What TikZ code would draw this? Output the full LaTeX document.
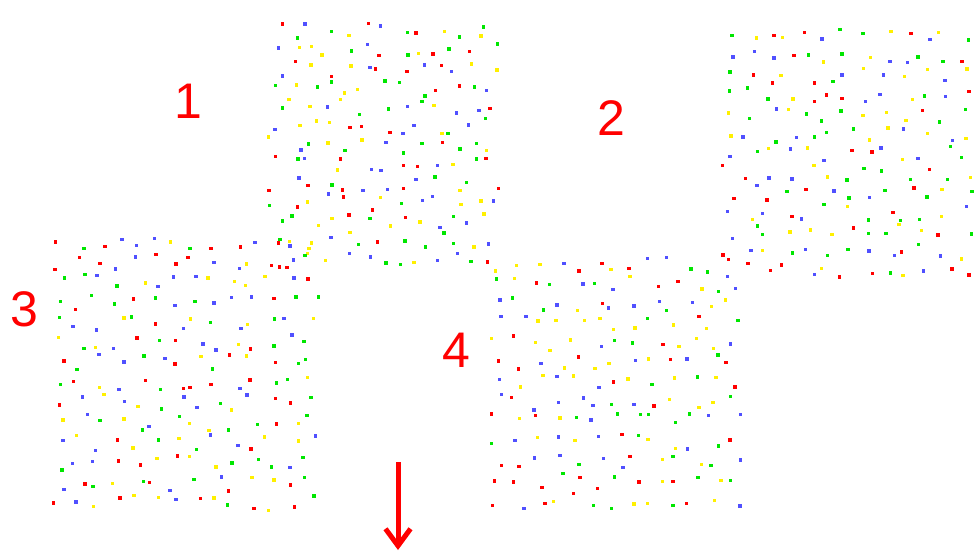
\documentclass[tikz,border=0pt]{standalone}
\usepackage{fontspec}
\setmainfont{Liberation Sans}
\usetikzlibrary{arrows.meta}
\definecolor{dotc1}{RGB}{255,0,0}
\definecolor{dotc2}{RGB}{0,230,0}
\definecolor{dotc3}{RGB}{80,80,255}
\definecolor{dotc4}{RGB}{255,240,0}

% scattered dots on a jittered grid: x0, y0, x1, y1, steps
\newcommand{\dotfield}[5]{%
  \foreach \i in {0,...,#5}{
    \foreach \j in {0,...,#5}{
      \pgfmathsetmacro{\px}{#1+(#3-#1)*\i/#5+8*rand}
      \pgfmathsetmacro{\py}{#2+(#4-#2)*\j/#5+8*rand}
      \pgfmathrandominteger{\c}{1}{4}
      \fill[dotc\c] (\px-1.7,\py-1.7) rectangle ++(3.4,3.4);
    }
  }
}

\begin{document}
\begin{tikzpicture}[
    x=1pt, y=-1pt,
    lbl/.style={text=red, font=\fontsize{50}{50}\selectfont, inner sep=0pt}
  ]
  \useasboundingbox (0,0) rectangle (974,552);
  \pgfmathsetseed{4711}

  % --------------------------------------------------
  % Dot fields
  % --------------------------------------------------
  \dotfield{276}{31}{491}{259}{12}
  \dotfield{730}{37}{965}{271}{12}
  \dotfield{61}{242}{311}{503}{13}
  \dotfield{499}{264}{733}{501}{12}

  % --------------------------------------------------
  % Labels
  % --------------------------------------------------
  \node[lbl] (n1) at (188,101) {1};
  \node[lbl] (n2) at (611,118) {2};
  \node[lbl] (n3) at (24,309) {3};
  \node[lbl] (n4) at (456,350) {4};

  % --------------------------------------------------
  % Arrow
  % --------------------------------------------------
  \coordinate (atop) at (398,462);
  \coordinate (atip) at (398,550);
  \draw[red, line width=5pt, -{Straight Barb[length=17pt,width=25pt]}] (atop) -- (atip);
\end{tikzpicture}
\end{document}
